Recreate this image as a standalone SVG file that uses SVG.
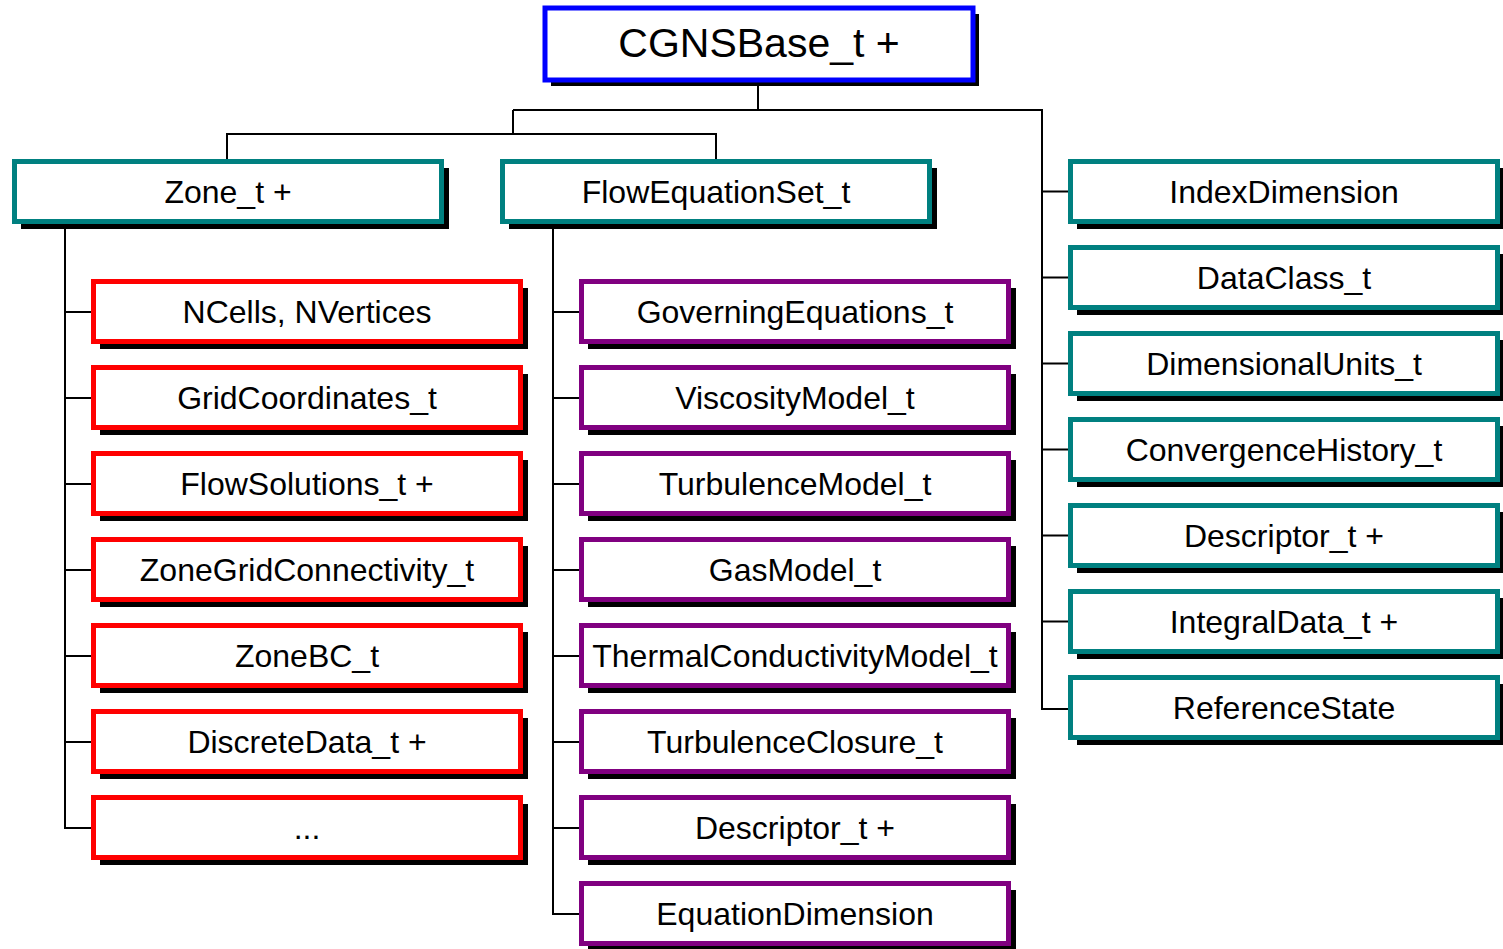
<svg xmlns="http://www.w3.org/2000/svg" width="1503" height="949" viewBox="0 0 1503 949">
  <style>
    .shadow { fill: #000; }
    .box { fill: #fff; stroke-width: 5; }
    .base { stroke: #0000ff; }
    .teal { stroke: #008080; }
    .red { stroke: #ff0000; }
    .purple { stroke: #800080; }
    .label { font-family: "Liberation Sans", Arial, sans-serif; font-size: 32px; fill: #000; text-anchor: middle; }
    .title { font-size: 41px; }
    .wire { fill: none; stroke: #000; stroke-width: 2; }
  </style>

  <!-- connectors -->
  <g id="connectors" class="wire">
    <path d="M758 82 V110 M513 110 H1042 V709 H1068"/>
    <path d="M513 110 V134 M227 159 V134 H716 V159"/>
    <path d="M1042 191.5 H1068 M1042 277.5 H1068 M1042 363.5 H1068 M1042 449.5 H1068 M1042 535.5 H1068 M1042 621.5 H1068"/>
    <path d="M65 224 V828 H91 M65 312 H91 M65 398 H91 M65 484 H91 M65 570 H91 M65 656 H91 M65 742 H91"/>
    <path d="M553 224 V914 H579 M553 312 H579 M553 398 H579 M553 484 H579 M553 570 H579 M553 656 H579 M553 742 H579 M553 828 H579"/>
  </g>

  <!-- root -->
  <g id="cgnsbase">
    <rect class="shadow" x="551" y="14" width="428" height="72"/>
    <rect class="box base" x="545" y="8" width="428" height="72" stroke-width="4"/>
    <text class="label title" x="759" y="57">CGNSBase_t +</text>
  </g>

  <!-- second level -->
  <g id="zone">
    <rect class="shadow" x="21" y="168" width="428" height="61"/>
    <rect class="box teal" x="14.5" y="161.5" width="427" height="60"/>
    <text class="label" x="228" y="203">Zone_t +</text>
  </g>
  <g id="flowequationset">
    <rect class="shadow" x="509" y="168" width="428" height="61"/>
    <rect class="box teal" x="502.5" y="161.5" width="427" height="60"/>
    <text class="label" x="716" y="203">FlowEquationSet_t</text>
  </g>

  <!-- base children (right column) -->
  <g id="indexdimension">
    <rect class="shadow" x="1077" y="168" width="428" height="61"/>
    <rect class="box teal" x="1070.5" y="161.5" width="427" height="60"/>
    <text class="label" x="1284" y="203">IndexDimension</text>
  </g>
  <g id="dataclass">
    <rect class="shadow" x="1077" y="254" width="428" height="61"/>
    <rect class="box teal" x="1070.5" y="247.5" width="427" height="60"/>
    <text class="label" x="1284" y="289">DataClass_t</text>
  </g>
  <g id="dimensionalunits">
    <rect class="shadow" x="1077" y="340" width="428" height="61"/>
    <rect class="box teal" x="1070.5" y="333.5" width="427" height="60"/>
    <text class="label" x="1284" y="375">DimensionalUnits_t</text>
  </g>
  <g id="convergencehistory">
    <rect class="shadow" x="1077" y="426" width="428" height="61"/>
    <rect class="box teal" x="1070.5" y="419.5" width="427" height="60"/>
    <text class="label" x="1284" y="461">ConvergenceHistory_t</text>
  </g>
  <g id="descriptor-base">
    <rect class="shadow" x="1077" y="512" width="428" height="61"/>
    <rect class="box teal" x="1070.5" y="505.5" width="427" height="60"/>
    <text class="label" x="1284" y="547">Descriptor_t +</text>
  </g>
  <g id="integraldata">
    <rect class="shadow" x="1077" y="598" width="428" height="61"/>
    <rect class="box teal" x="1070.5" y="591.5" width="427" height="60"/>
    <text class="label" x="1284" y="633">IntegralData_t +</text>
  </g>
  <g id="referencestate">
    <rect class="shadow" x="1077" y="684" width="428" height="61"/>
    <rect class="box teal" x="1070.5" y="677.5" width="427" height="60"/>
    <text class="label" x="1284" y="719">ReferenceState</text>
  </g>

  <!-- zone children -->
  <g id="ncells">
    <rect class="shadow" x="100" y="288" width="428" height="61"/>
    <rect class="box red" x="93.5" y="281.5" width="427" height="60"/>
    <text class="label" x="307" y="323">NCells, NVertices</text>
  </g>
  <g id="gridcoordinates">
    <rect class="shadow" x="100" y="374" width="428" height="61"/>
    <rect class="box red" x="93.5" y="367.5" width="427" height="60"/>
    <text class="label" x="307" y="409">GridCoordinates_t</text>
  </g>
  <g id="flowsolutions">
    <rect class="shadow" x="100" y="460" width="428" height="61"/>
    <rect class="box red" x="93.5" y="453.5" width="427" height="60"/>
    <text class="label" x="307" y="495">FlowSolutions_t +</text>
  </g>
  <g id="zonegridconnectivity">
    <rect class="shadow" x="100" y="546" width="428" height="61"/>
    <rect class="box red" x="93.5" y="539.5" width="427" height="60"/>
    <text class="label" x="307" y="581">ZoneGridConnectivity_t</text>
  </g>
  <g id="zonebc">
    <rect class="shadow" x="100" y="632" width="428" height="61"/>
    <rect class="box red" x="93.5" y="625.5" width="427" height="60"/>
    <text class="label" x="307" y="667">ZoneBC_t</text>
  </g>
  <g id="discretedata">
    <rect class="shadow" x="100" y="718" width="428" height="61"/>
    <rect class="box red" x="93.5" y="711.5" width="427" height="60"/>
    <text class="label" x="307" y="753">DiscreteData_t +</text>
  </g>
  <g id="more">
    <rect class="shadow" x="100" y="804" width="428" height="61"/>
    <rect class="box red" x="93.5" y="797.5" width="427" height="60"/>
    <text class="label" x="307" y="839">...</text>
  </g>

  <!-- flow equation set children -->
  <g id="governingequations">
    <rect class="shadow" x="588" y="288" width="428" height="61"/>
    <rect class="box purple" x="581.5" y="281.5" width="427" height="60"/>
    <text class="label" x="795" y="323">GoverningEquations_t</text>
  </g>
  <g id="viscositymodel">
    <rect class="shadow" x="588" y="374" width="428" height="61"/>
    <rect class="box purple" x="581.5" y="367.5" width="427" height="60"/>
    <text class="label" x="795" y="409">ViscosityModel_t</text>
  </g>
  <g id="turbulencemodel">
    <rect class="shadow" x="588" y="460" width="428" height="61"/>
    <rect class="box purple" x="581.5" y="453.5" width="427" height="60"/>
    <text class="label" x="795" y="495">TurbulenceModel_t</text>
  </g>
  <g id="gasmodel">
    <rect class="shadow" x="588" y="546" width="428" height="61"/>
    <rect class="box purple" x="581.5" y="539.5" width="427" height="60"/>
    <text class="label" x="795" y="581">GasModel_t</text>
  </g>
  <g id="thermalconductivitymodel">
    <rect class="shadow" x="588" y="632" width="428" height="61"/>
    <rect class="box purple" x="581.5" y="625.5" width="427" height="60"/>
    <text class="label" x="795" y="667">ThermalConductivityModel_t</text>
  </g>
  <g id="turbulenceclosure">
    <rect class="shadow" x="588" y="718" width="428" height="61"/>
    <rect class="box purple" x="581.5" y="711.5" width="427" height="60"/>
    <text class="label" x="795" y="753">TurbulenceClosure_t</text>
  </g>
  <g id="descriptor-flow">
    <rect class="shadow" x="588" y="804" width="428" height="61"/>
    <rect class="box purple" x="581.5" y="797.5" width="427" height="60"/>
    <text class="label" x="795" y="839">Descriptor_t +</text>
  </g>
  <g id="equationdimension">
    <rect class="shadow" x="588" y="890" width="428" height="61"/>
    <rect class="box purple" x="581.5" y="883.5" width="427" height="60"/>
    <text class="label" x="795" y="925">EquationDimension</text>
  </g>
</svg>
